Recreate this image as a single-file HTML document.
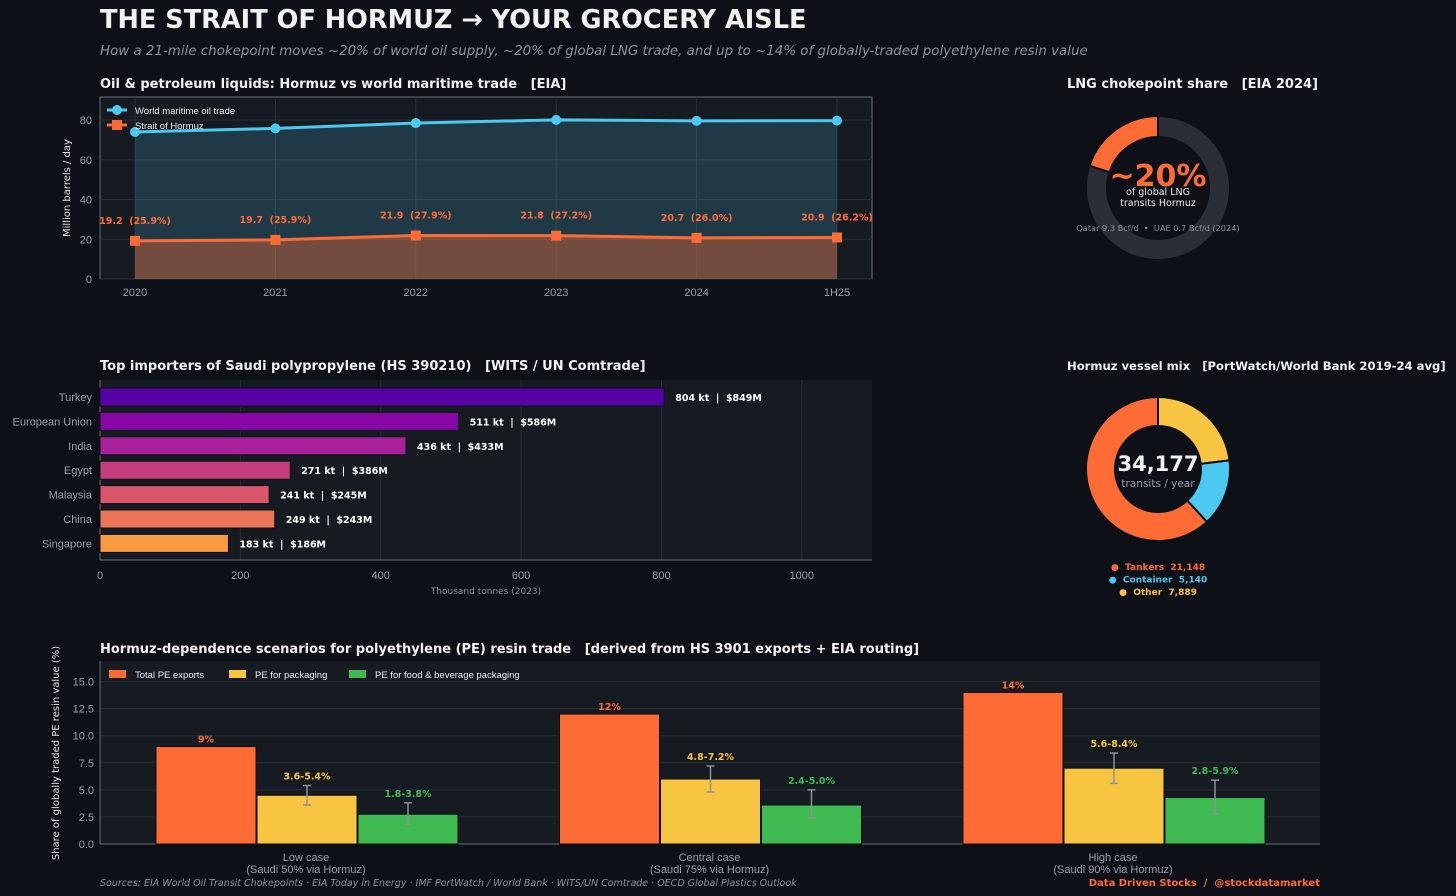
<!DOCTYPE html>
<html><head><meta charset="utf-8"><style>
html,body{margin:0;padding:0;background:#0d1017;}
svg{display:block;font-family:"DejaVu Sans","Liberation Sans",sans-serif;}
svg text{white-space:pre;}
.t{fill:#9aa0a8;font-size:11px;font-family:"Liberation Sans",sans-serif;}
.pt{fill:#f2f2f2;font-size:13px;font-weight:bold;}
</style></head><body>
<svg id="s" width="1456" height="896" viewBox="0 0 1456 896" xmlns="http://www.w3.org/2000/svg">
<rect width="1456" height="896" fill="#0d1017"/>
<text x="100" y="28" fill="#f2f2f2" font-size="25.6" font-weight="bold">THE STRAIT OF HORMUZ → YOUR GROCERY AISLE</text>
<text x="100" y="55" fill="#8d939b" font-size="13.4" font-style="italic">How a 21-mile chokepoint moves ~20% of world oil supply, ~20% of global LNG trade, and up to ~14% of globally-traded polyethylene resin value</text>

<text x="100" y="88" class="pt">Oil &amp; petroleum liquids: Hormuz vs world maritime trade   [EIA]</text>
<g id="oil"></g>

<text x="1067" y="88" class="pt">LNG chokepoint share   [EIA 2024]</text>
<g id="lng"></g>

<text x="100" y="370" class="pt">Top importers of Saudi polypropylene (HS 390210)   [WITS / UN Comtrade]</text>
<g id="pp"></g>

<text x="1067" y="370" class="pt" style="font-size:11.6px">Hormuz vessel mix   [PortWatch/World Bank 2019-24 avg]</text>
<g id="ves"></g>

<text x="100" y="653" class="pt">Hormuz-dependence scenarios for polyethylene (PE) resin trade   [derived from HS 3901 exports + EIA routing]</text>
<g id="pe"></g>

<text x="100" y="886" fill="#8d939b" font-size="9.5" font-style="italic">Sources: EIA World Oil Transit Chokepoints · EIA Today in Energy · IMF PortWatch / World Bank · WITS/UN Comtrade · OECD Global Plastics Outlook</text>
<text x="1320" y="886" fill="#ff6b35" font-size="10" font-weight="bold" text-anchor="end">Data Driven Stocks  /  @stockdatamarket</text>
</svg>
<script>
const NS="http://www.w3.org/2000/svg";
function mk(p,tag,a,txt){const e=document.createElementNS(NS,tag);for(const k in a)e.setAttribute(k,a[k]);if(txt!=null)e.textContent=txt;p.appendChild(e);return e;}

// ---------- Oil chart data ----------
const oilYears=["2020","2021","2022","2023","2024","1H25"];
const worldOil=[74.0,75.8,78.5,80.1,79.6,79.7];
const hormuzOil=[19.2,19.7,21.9,21.8,20.7,20.9];
const hormuzShare=["25.9%","25.9%","27.9%","27.2%","26.0%","26.2%"];
const oilTicks=[0,20,40,60,80];

// ---------- PP chart data ----------
const ppCountries=["Turkey","European Union","India","Egypt","Malaysia","China","Singapore"];
const ppKt=[804,511,436,271,241,249,183];
const ppUsd=["$849M","$586M","$433M","$386M","$245M","$243M","$186M"];
const ppTicks=[0,200,400,600,800,1000];
const ppColors=["#5602a5","#8606a6","#a8219a","#c63e80","#d9566b","#ec7557","#f89a3f"];

// ---------- LNG ----------
const lngShare=[20,80];

// ---------- Vessels ----------
const vesselLabels=["Other","Container","Tankers"];
const vesselCounts=[7889,5140,21148];
const vesselColors=["#f8c542","#4cc9f0","#ff6b35"];

// ---------- PE chart data ----------
const peCases=["Low case","Central case","High case"];
const peSub=["(Saudi 50% via Hormuz)","(Saudi 75% via Hormuz)","(Saudi 90% via Hormuz)"];
const peTotal=[9,12,14];
const pePack=[4.5,6,7];
const pePackLo=[3.6,4.8,5.6];
const pePackHi=[5.4,7.2,8.4];
const peFood=[2.75,3.6,4.3];
const peFoodLo=[1.8,2.4,2.8];
const peFoodHi=[3.8,5.0,5.9];
const peTicks=[0,2.5,5,7.5,10,12.5,15];

// ===== Oil chart =====
(function(){
 const g=document.getElementById('oil');
 const L=100,R=872,T=97,B=279,ymax=91.6;
 const x=i=>135+i*(837-135)/(oilYears.length-1);
 const y=v=>B-(v/ymax)*(B-T);
 const bg=mk(g,'rect',{x:L,y:T,width:R-L,height:B-T,fill:'#161a21',stroke:'#6b7079'});
 
 
 oilTicks.forEach(t=>{mk(g,'line',{x1:L,x2:R,y1:y(t),y2:y(t),stroke:'#2a2f37'});
  const tl=mk(g,'text',{x:L-8,y:y(t)+4,'text-anchor':'end',class:'t'},t);
  
  });
 oilYears.forEach((yr,i)=>{mk(g,'line',{x1:x(i),x2:x(i),y1:T,y2:B,stroke:'#2a2f37'});
  const tl=mk(g,'text',{x:x(i),y:B+17,'text-anchor':'middle',class:'t',"font-size":"10"},yr);
  
  });
 let pw=oilYears.map((_,i)=>x(i)+','+y(worldOil[i])).join(' ');
 let ph=oilYears.map((_,i)=>x(i)+','+y(hormuzOil[i])).join(' ');
 const aw=mk(g,'polygon',{points:x(0)+','+B+' '+pw+' '+x(5)+','+B,fill:'#4cc9f0','fill-opacity':0.18});
 
 
 const ah=mk(g,'polygon',{points:x(0)+','+B+' '+ph+' '+x(5)+','+B,fill:'#ff6b35','fill-opacity':0.38});
 
 
 const lw=mk(g,'polyline',{points:pw,fill:'none',stroke:'#4cc9f0','stroke-width':3});
 
 
 const lh=mk(g,'polyline',{points:ph,fill:'none',stroke:'#ff6b35','stroke-width':3});
 
 
 oilYears.forEach((_,i)=>{
  const c=mk(g,'circle',{cx:x(i),cy:y(worldOil[i]),r:5,fill:'#4cc9f0'});
  
  
  const s=mk(g,'rect',{x:x(i)-5,y:y(hormuzOil[i])-5,width:10,height:10,fill:'#ff6b35'});
  
  
  const lab=mk(g,'text',{x:x(i),y:y(hormuzOil[i])-17,'text-anchor':'middle',fill:'#ff6b35','font-size':'9.5','font-weight':'bold'},hormuzOil[i].toFixed(1)+'  ('+hormuzShare[i]+')');
  
  
 });
 const yt=mk(g,'text',{x:0,y:0,transform:'translate(70,188) rotate(-90)','text-anchor':'middle',fill:'#e6e6e6','font-size':'10'},'Million barrels / day');
 
 
 const lg=mk(g,'g',{});
 
 
 mk(lg,'line',{x1:107,x2:127,y1:110,y2:110,stroke:'#4cc9f0','stroke-width':3});
 mk(lg,'circle',{cx:117,cy:110,r:5,fill:'#4cc9f0'});
 mk(lg,'text',{x:135,y:114,fill:'#eee','font-size':'9.5','font-family':'Liberation Sans, sans-serif'},'World maritime oil trade');
 mk(lg,'line',{x1:107,x2:127,y1:125,y2:125,stroke:'#ff6b35','stroke-width':3});
 mk(lg,'rect',{x:112,y:120,width:10,height:10,fill:'#ff6b35'});
 mk(lg,'text',{x:135,y:129,fill:'#eee','font-size':'9.5','font-family':'Liberation Sans, sans-serif'},'Strait of Hormuz');
})();

function arcPath(cx,cy,ro,ri,a0,a1){
 const p=(r,a)=>[cx+r*Math.sin(a*Math.PI/180),cy-r*Math.cos(a*Math.PI/180)];
 const lg=(a1-a0)>180?1:0;
 const [x0,y0]=p(ro,a0),[x1,y1]=p(ro,a1),[x2,y2]=p(ri,a1),[x3,y3]=p(ri,a0);
 return `M${x0},${y0} A${ro},${ro} 0 ${lg} 1 ${x1},${y1} L${x2},${y2} A${ri},${ri} 0 ${lg} 0 ${x3},${y3} Z`;
}

// ===== LNG donut =====
(function(){
 const g=document.getElementById('lng');
 const cx=1158,cy=188;
 const tot=lngShare[0]+lngShare[1];
 const a=lngShare[0]/tot*360;
 const s1=mk(g,'path',{d:arcPath(cx,cy,72,51,0,360-a),fill:'#2a2e36',stroke:'#0d1017','stroke-width':2});
 
 
 const s0=mk(g,'path',{d:arcPath(cx,cy,72,51,360-a,360),fill:'#ff6b35',stroke:'#0d1017','stroke-width':2});
 
 
 const big=mk(g,'text',{x:cx,y:186,'text-anchor':'middle',fill:'#ff6b35','font-size':'30','font-weight':'bold'},'~'+lngShare[0]+'%');
 
 
 mk(g,'text',{x:cx,y:195,'text-anchor':'middle',fill:'#eee','font-size':'9.5'},'of global LNG');
 mk(g,'text',{x:cx,y:206,'text-anchor':'middle',fill:'#eee','font-size':'9.5'},'transits Hormuz');
 const n=mk(g,'text',{x:cx,y:231,'text-anchor':'middle',fill:'#8d939b','font-size':'8.2'},'Qatar 9.3 Bcf/d  •  UAE 0.7 Bcf/d (2024)');
 
 
})();

// ===== PP chart =====
(function(){
 const g=document.getElementById('pp');
 const L=100,R=872,T=380,B=560,xmax=1100;
 const x=v=>L+v/xmax*(R-L);
 const bg=mk(g,'rect',{x:L,y:T,width:R-L,height:B-T,fill:'#161a21'});
 
 
 ppTicks.forEach(t=>{mk(g,'line',{x1:x(t),x2:x(t),y1:T,y2:B,stroke:'#2a2f37'});
  const tl=mk(g,'text',{x:x(t),y:B+19,'text-anchor':'middle',class:'t'},t);
  
  });
 mk(g,'line',{x1:L,x2:R,y1:B,y2:B,stroke:'#6b7079'});
 mk(g,'line',{x1:L,x2:L,y1:T,y2:B,stroke:'#6b7079'});
 ppCountries.forEach((c,i)=>{
  const cy=397+i*24.4;
  const b=mk(g,'rect',{x:L,y:cy-9,width:x(ppKt[i])-L,height:18,fill:ppColors[i],stroke:'#0d1017','stroke-width':1});
  
  
  const cl=mk(g,'text',{x:L-8,y:cy+4,'text-anchor':'end',class:'t',"font-size":"10.5"},c);
  
  
  const vl=mk(g,'text',{x:x(ppKt[i])+11,y:cy+4,fill:'#fff','font-size':'9.5','font-weight':'bold'},ppKt[i]+' kt  |  '+ppUsd[i]);
  
  
 });
 const xt=mk(g,'text',{x:486,y:594,'text-anchor':'middle',fill:'#8d939b','font-size':'9'},'Thousand tonnes (2023)');
 
 
})();

// ===== Vessel donut =====
(function(){
 const g=document.getElementById('ves');
 const cx=1158,cy=469;
 const tot=vesselCounts.reduce((a,b)=>a+b,0);
 let a0=0;
 vesselCounts.forEach((v,i)=>{
  const a1=a0+v/tot*360;
  const s=mk(g,'path',{d:arcPath(cx,cy,72,43,a0,a1),fill:vesselColors[i],stroke:'#0d1017','stroke-width':2});
  
  
  a0=a1;
 });
 const big=mk(g,'text',{x:cx,y:471,'text-anchor':'middle',fill:'#f2f2f2','font-size':'21','font-weight':'bold'},tot.toLocaleString('en-US'));
 
 
 mk(g,'text',{x:cx,y:487,'text-anchor':'middle',fill:'#9aa0a8','font-size':'10.5'},'transits / year');
 const order=[2,1,0];
 order.forEach((k,j)=>{
  const yy=566+j*12.5;
  const t=mk(g,'text',{x:cx,y:yy+4,'text-anchor':'middle',fill:vesselColors[k],'font-size':'9','font-weight':'bold'},'●  '+vesselLabels[k]+'  '+vesselCounts[k].toLocaleString('en-US'));
  
  
 });
})();

// ===== PE chart =====
(function(){
 const g=document.getElementById('pe');
 const L=100,R=1320,T=661,B=844,ymax=16.9;
 const y=v=>B-v/ymax*(B-T);
 const bg=mk(g,'rect',{x:L,y:T,width:R-L,height:B-T,fill:'#161a21'});
 
 
 peTicks.forEach(t=>{mk(g,'line',{x1:L,x2:R,y1:y(t),y2:y(t),stroke:'#2a2f37'});
  const tl=mk(g,'text',{x:L-6,y:y(t)+4,'text-anchor':'end',class:'t'},t.toFixed(1));
  
  });
 mk(g,'line',{x1:L,x2:R,y1:B,y2:B,stroke:'#6b7079'});
 mk(g,'line',{x1:L,x2:L,y1:T,y2:B,stroke:'#6b7079'});
 const cols=['#ff6b35','#f8c542','#3fba50'];
 peCases.forEach((c,i)=>{
  const cx=306+i*403.5;
  const series=[peTotal[i],pePack[i],peFood[i]];
  const lo=[null,pePackLo[i],peFoodLo[i]],hi=[null,pePackHi[i],peFoodHi[i]];
  series.forEach((v,j)=>{
   const bx=cx-150+j*101;
   const b=mk(g,'rect',{x:bx,y:y(v),width:100,height:B-y(v),fill:cols[j],stroke:'#0d1017','stroke-width':1});
   
   
   const mx=bx+50;
   let lbl,ly;
   if(j==0){lbl=v+'%';ly=y(v)-4;}
   else{
    mk(g,'line',{x1:mx,x2:mx,y1:y(lo[j]),y2:y(hi[j]),stroke:'#8d939b','stroke-width':1.5});
    mk(g,'line',{x1:mx-4,x2:mx+4,y1:y(lo[j]),y2:y(lo[j]),stroke:'#8d939b','stroke-width':1.5});
    mk(g,'line',{x1:mx-4,x2:mx+4,y1:y(hi[j]),y2:y(hi[j]),stroke:'#8d939b','stroke-width':1.5});
    lbl=lo[j].toFixed(1)+'-'+hi[j].toFixed(1)+'%';ly=y(hi[j])-6;
   }
   const t=mk(g,'text',{x:mx,y:ly,'text-anchor':'middle',fill:cols[j],'font-size':'9.5','font-weight':'bold'},lbl);
   
   
  });
  const cl=mk(g,'text',{x:cx,y:861,'text-anchor':'middle',class:'t',"font-size":"10.5"},c);
  
  
  mk(g,'text',{x:cx,y:873,'text-anchor':'middle',class:'t',"font-size":"10.5"},peSub[i]);
 });
 const yt=mk(g,'text',{x:0,y:0,transform:'translate(59,753) rotate(-90)','text-anchor':'middle',fill:'#e6e6e6','font-size':'10'},'Share of globally traded PE resin value (%)');
 
 
 const names=['Total PE exports','PE for packaging','PE for food & beverage packaging'];
 const lxs=[109,229,349];
 names.forEach((n,j)=>{
  const e=mk(g,'g',{});
  
  
  mk(e,'rect',{x:lxs[j],y:670,width:17,height:8,fill:cols[j]});
  mk(e,'text',{x:lxs[j]+26,y:678,fill:'#eee','font-size':'9.5','font-family':'Liberation Sans, sans-serif'},n);
 });
})();
</script>
</body></html>
